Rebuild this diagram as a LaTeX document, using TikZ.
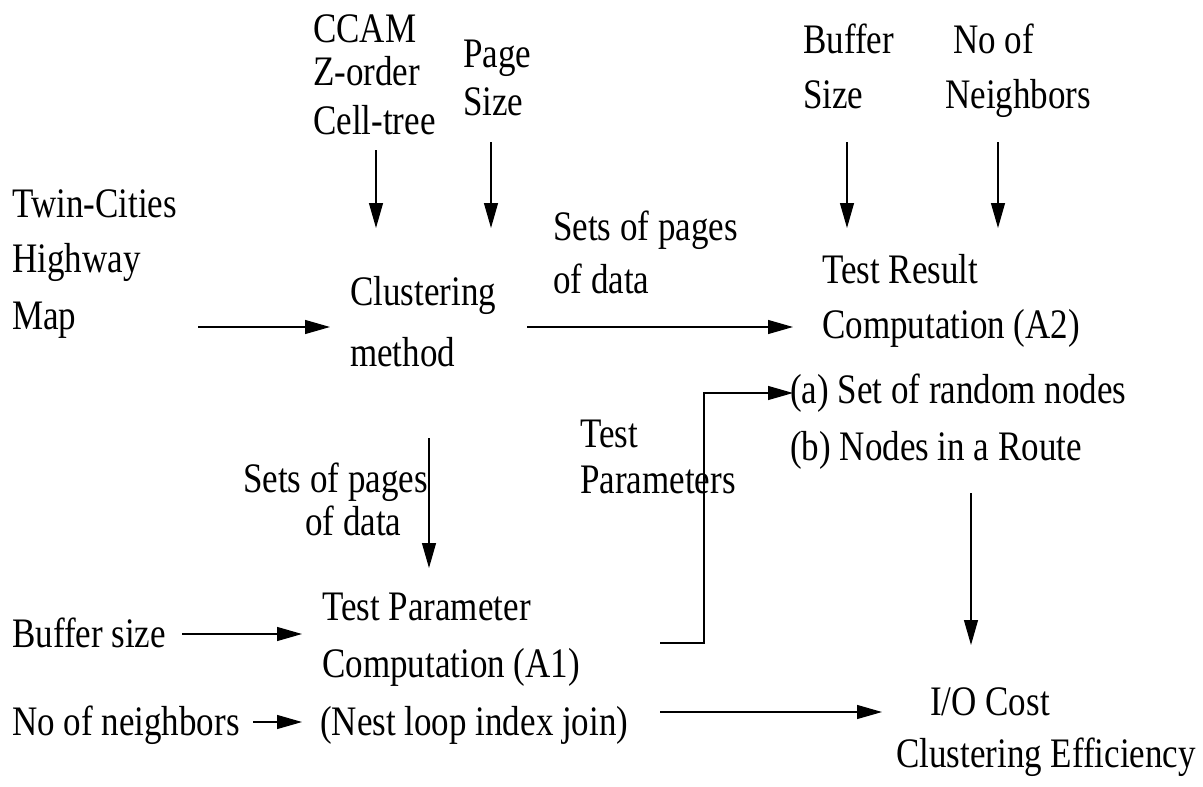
\documentclass[tikz,border=0pt]{standalone}
\usepackage{fontspec}
\usepackage{graphicx}
\setmainfont{Liberation Serif}
\usetikzlibrary{arrows.meta}
\newcommand{\tallt}[1]{\scalebox{1}[1.2]{#1}}
\begin{document}
\begin{tikzpicture}[x=1pt,y=-1pt,
  lbl/.style={anchor=base west,inner sep=0pt,font=\fontsize{35}{40}\selectfont},
  conn/.style={line width=1.2pt,-{Triangle[length=25pt,width=14pt]}}]
\useasboundingbox (0,0) rectangle (1203,787);
% top inputs
\node[lbl] (ccam) at (313,42) {\tallt{CCAM}};
\node[lbl] (zorder) at (313,85) {\tallt{Z-order}};
\node[lbl] (celltree) at (313,134) {\tallt{Cell-tree}};
\node[lbl] (page) at (463,67) {\tallt{Page}};
\node[lbl] (psize) at (463,115) {\tallt{Size}};
\node[lbl] (buffer) at (803,53) {\tallt{Buffer}};
\node[lbl] (bsize) at (803,108) {\tallt{Size}};
\node[lbl] (noof) at (953,53) {\tallt{No of}};
\node[lbl] (neigh) at (945,108) {\tallt{Neighbors}};
% left input
\node[lbl] (twin) at (12,217) {\tallt{Twin-Cities}};
\node[lbl] (highway) at (12,272) {\tallt{Highway}};
\node[lbl] (map) at (12,329) {\tallt{Map}};
% clustering
\node[lbl] (clust) at (350,305) {\tallt{Clustering}};
\node[lbl] (method) at (350,366) {\tallt{method}};
\node[lbl] (sets1) at (553,240) {\tallt{Sets of pages}};
\node[lbl] (data1) at (553,293) {\tallt{of data}};
% test result
\node[lbl] (tr) at (822,283) {\tallt{Test Result}};
\node[lbl] (comp2) at (822,338) {\tallt{Computation (A2)}};
\node[lbl] (ra) at (790,403) {\tallt{(a) Set of random nodes}};
\node[lbl] (rb) at (790,460) {\tallt{(b) Nodes in a Route}};
% test parameters label
\node[lbl] (test) at (580,447) {\tallt{Test}};
\node[lbl] (params) at (580,493) {\tallt{Parameters}};
% second sets
\node[lbl] (sets2) at (243,492) {\tallt{Sets of pages}};
\node[lbl] (data2) at (305,535) {\tallt{of data}};
% A1
\node[lbl] (tp) at (322,620) {\tallt{Test Parameter}};
\node[lbl] (comp1) at (322,677) {\tallt{Computation (A1)}};
\node[lbl] (nest) at (320,735) {\tallt{(Nest loop index join)}};
\node[lbl] (bufs) at (12,647) {\tallt{Buffer size}};
\node[lbl] (nons) at (12,735) {\tallt{No of neighbors}};
% output
\node[lbl] (io) at (930,715) {\tallt{I/O Cost}};
\node[lbl] (eff) at (896,767) {\tallt{Clustering Efficiency}};
% connector end points
\coordinate (c1s) at (376,150); \coordinate (c1e) at (376,228);
\coordinate (c2s) at (491,142); \coordinate (c2e) at (491,228);
\coordinate (c3s) at (847,142); \coordinate (c3e) at (847,228);
\coordinate (c4s) at (998,142); \coordinate (c4e) at (998,228);
\coordinate (m1) at (198,327); \coordinate (m2) at (330,327);
\coordinate (s1) at (527,327); \coordinate (s2) at (793,327);
\coordinate (v1) at (429,438); \coordinate (v2) at (429,568);
\coordinate (e1) at (660,643); \coordinate (e2) at (704,643);
\coordinate (e3) at (704,393); \coordinate (e4) at (793,393);
\coordinate (b1) at (182,634); \coordinate (b2) at (302,634);
\coordinate (n1) at (253,722); \coordinate (n2) at (302,722);
\coordinate (o1) at (660,712); \coordinate (o2) at (882,712);
\coordinate (r1) at (971,493); \coordinate (r2) at (971,645);
\draw[conn] (c1s) -- (c1e);
\draw[conn] (c2s) -- (c2e);
\draw[conn] (c3s) -- (c3e);
\draw[conn] (c4s) -- (c4e);
\draw[conn] (m1) -- (m2);
\draw[conn] (s1) -- (s2);
\draw[conn] (v1) -- (v2);
\draw[conn] (e1) -- (e2) -- (e3) -- (e4);
\draw[conn] (b1) -- (b2);
\draw[conn] (n1) -- (n2);
\draw[conn] (o1) -- (o2);
\draw[conn] (r1) -- (r2);
\end{tikzpicture}
\end{document}
